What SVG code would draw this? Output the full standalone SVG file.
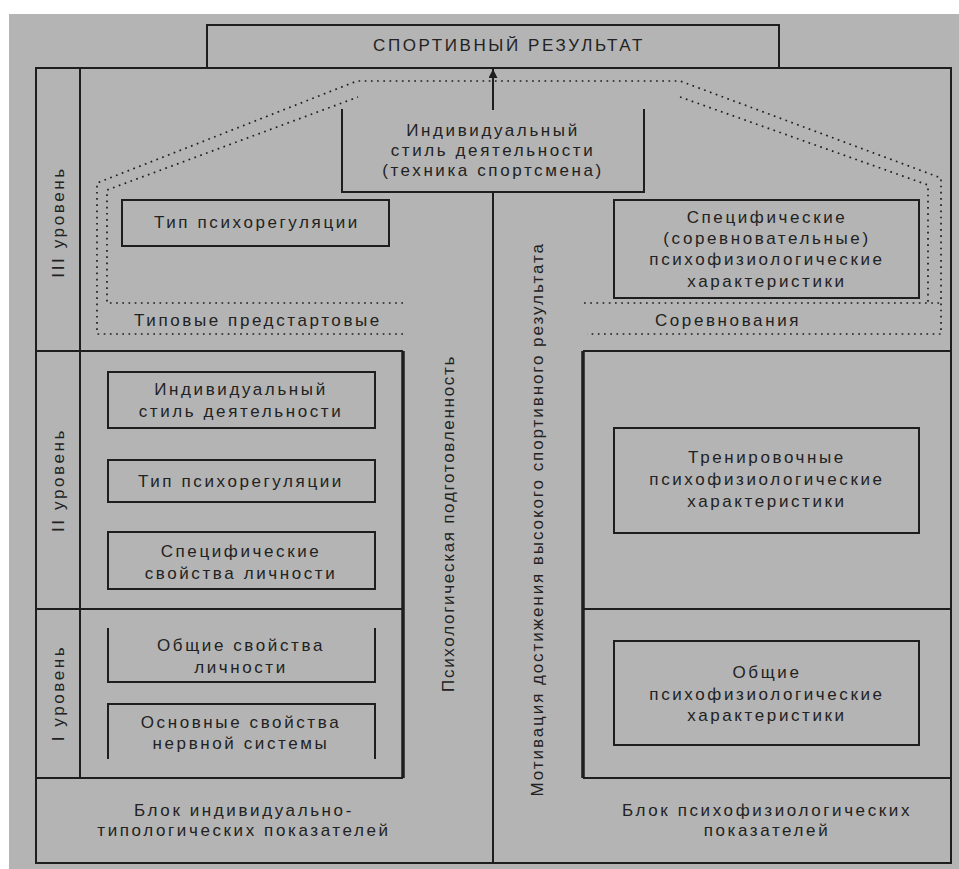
<svg xmlns="http://www.w3.org/2000/svg" width="959" height="869" viewBox="0 0 959 869">
<defs>
<style>
.t{font-family:"Liberation Sans",Arial,sans-serif;font-size:17px;letter-spacing:2.6px;fill:#222;text-anchor:middle;dominant-baseline:central}
.ln{stroke:#1e1e1e;stroke-width:2;fill:none}
.thick{stroke:#1e1e1e;stroke-width:3.5;fill:none}
.dot{stroke:#1e1e1e;stroke-width:1.7;fill:none;stroke-dasharray:1.7 4.5}
</style>
<marker id="ah" viewBox="0 0 10 10" refX="10" refY="5" markerWidth="9" markerHeight="9" orient="auto" markerUnits="userSpaceOnUse">
<path d="M0,0 L10,5 L0,10 z" fill="#1e1e1e"/>
</marker>
</defs>
<rect x="0" y="0" width="959" height="869" fill="#fff"/>
<rect x="9" y="14" width="950" height="855" fill="#b4b4b4"/>

<g id="frame">
<path class="ln" d="M36,68 H951 V863 H36 Z"/>
<path class="ln" d="M80,68 V778"/>
<path class="ln" d="M36,351 H80"/>
<path class="ln" d="M36,609 H80"/>
<path class="ln" d="M36,778 H403"/>
<path class="ln" d="M493,192 V863"/>
<path class="ln" d="M80,351 H403 M80,609 H403 M80,778 H403"/>
<path class="thick" d="M403,351 V778"/>
<path class="ln" d="M583,351 H951 M583,609 H951 M583,778 H951"/>
<path class="thick" d="M583,351 V778"/>
</g>

<g id="result">
<path class="ln" d="M207,68 V25 H779 V68"/>
<text class="t" x="509" y="45">СПОРТИВНЫЙ РЕЗУЛЬТАТ</text>
</g>

<g id="level3-label"><text class="t" transform="translate(58,222) rotate(-90)">III уровень</text></g>
<g id="level2-label"><text class="t" transform="translate(58,480) rotate(-90)">II уровень</text></g>
<g id="level1-label"><text class="t" transform="translate(58,693) rotate(-90)">I уровень</text></g>

<g id="style-top">
<path class="ln" d="M342,109 V192 H644 V109"/>
<text class="t" x="493" y="130">Индивидуальный</text>
<text class="t" x="493" y="150">стиль деятельности</text>
<text class="t" x="493" y="170">(техника спортсмена)</text>
</g>

<g id="psyreg-top">
<rect class="ln" x="122" y="200" width="267" height="46"/>
<text class="t" x="257" y="222">Тип психорегуляции</text>
</g>

<g id="specific-top">
<rect class="ln" x="614" y="200" width="305" height="98"/>
<text class="t" x="767" y="217">Специфические</text>
<text class="t" x="767" y="238">(соревновательные)</text>
<text class="t" x="767" y="259">психофизиологические</text>
<text class="t" x="767" y="281">характеристики</text>
</g>

<g id="dotted-outline">
<path class="dot" d="M403,334 H97 V183 L357,81 H680 L941,178 V334 H587"/>
<path class="dot" d="M403,303 H107 V190 L358,97"/>
<path class="dot" d="M680,97 L928,185 V303"/>
<path class="dot" d="M584,303 H941"/>
</g>

<g id="prestart"><text class="t" x="258" y="320">Типовые предстартовые</text></g>
<g id="competition"><text class="t" x="728" y="320">Соревнования</text></g>

<g id="style-2">
<rect class="ln" x="108" y="372" width="267" height="56"/>
<text class="t" x="241" y="389">Индивидуальный</text>
<text class="t" x="241" y="411">стиль деятельности</text>
</g>
<g id="psyreg-2">
<rect class="ln" x="108" y="460" width="267" height="42"/>
<text class="t" x="241" y="481">Тип психорегуляции</text>
</g>
<g id="specprops-2">
<rect class="ln" x="108" y="532" width="267" height="57"/>
<text class="t" x="241" y="551">Специфические</text>
<text class="t" x="241" y="573">свойства личности</text>
</g>
<g id="general-props-1">
<path class="ln" d="M108,628 V682 H375 V628"/>
<text class="t" x="241" y="645">Общие свойства</text>
<text class="t" x="241" y="667">личности</text>
</g>
<g id="nervous-1">
<path class="ln" d="M108,759 V704 H375 V759"/>
<text class="t" x="241" y="722">Основные свойства</text>
<text class="t" x="241" y="743">нервной системы</text>
</g>

<g id="training">
<rect class="ln" x="614" y="428" width="305" height="105"/>
<text class="t" x="767" y="457">Тренировочные</text>
<text class="t" x="767" y="479">психофизиологические</text>
<text class="t" x="767" y="501">характеристики</text>
</g>
<g id="general-psy">
<rect class="ln" x="614" y="641" width="305" height="104"/>
<text class="t" x="767" y="672">Общие</text>
<text class="t" x="767" y="694">психофизиологические</text>
<text class="t" x="767" y="715">характеристики</text>
</g>

<g id="block-left">
<text class="t" x="244" y="810">Блок индивидуально-</text>
<text class="t" x="244" y="830">типологических показателей</text>
</g>
<g id="block-right">
<text class="t" x="767" y="810">Блок психофизиологических</text>
<text class="t" x="767" y="830">показателей</text>
</g>

<g id="preparedness"><text class="t" transform="translate(448,523) rotate(-90)" textLength="338" lengthAdjust="spacing">Психологическая подготовленность</text></g>
<g id="motivation"><text class="t" transform="translate(537,519) rotate(-90)" textLength="555" lengthAdjust="spacing">Мотивация достижения высокого спортивного результата</text></g>

<g id="connectors">
<path class="ln" d="M493,110 V69" marker-end="url(#ah)"/>
</g>
</svg>
